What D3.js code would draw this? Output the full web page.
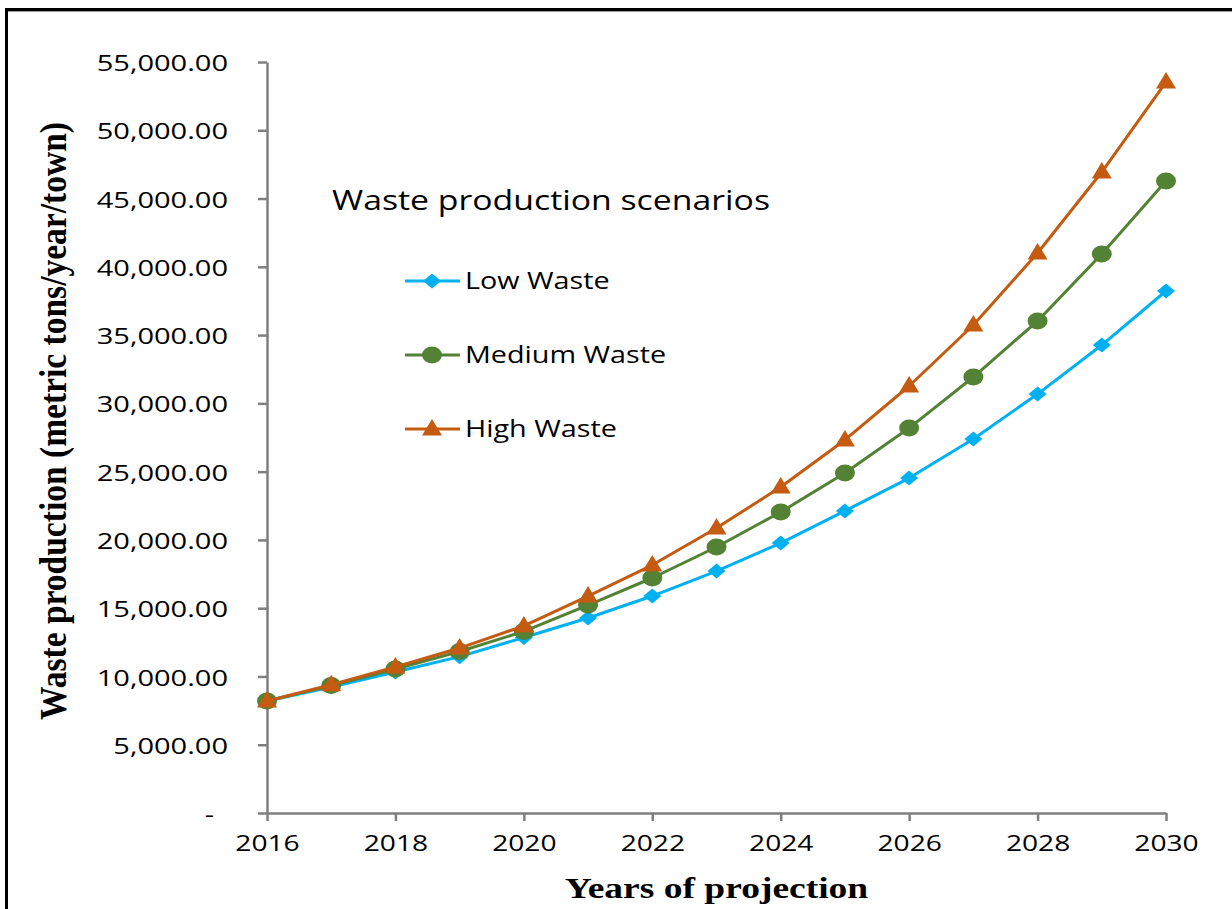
<!DOCTYPE html>
<html>
<head>
<meta charset="utf-8">
<script src="https://cdnjs.cloudflare.com/ajax/libs/d3/7.8.5/d3.min.js"></script>
<style>
  html, body { margin: 0; padding: 0; background: #fff; }
  svg { display: block; }
</style>
</head>
<body>
<div id="chart"></div>
<script>
// Projected municipal waste production per town, three scenarios
const years = [2016, 2017, 2018, 2019, 2020, 2021, 2022, 2023, 2024, 2025, 2026, 2027, 2028, 2029, 2030];
const lowWaste    = [8200, 9230, 10330, 11450, 12850, 14280, 15890, 17720, 19770, 22120, 24530, 27390, 30680, 34270, 38230];
const mediumWaste = [8200, 9330, 10550, 11830, 13300, 15230, 17210, 19480, 22040, 24900, 28190, 31930, 36030, 40940, 46280];
const highWaste   = [8200, 9400, 10690, 12080, 13700, 15890, 18160, 20870, 23870, 27320, 31270, 35740, 41010, 46940, 53530];
const seriesNames = ["Low Waste", "Medium Waste", "High Waste"];
const yTicks = [0, 5000, 10000, 15000, 20000, 25000, 30000, 35000, 40000, 45000, 50000, 55000];
const xTicks = [2016, 2018, 2020, 2022, 2024, 2026, 2028, 2030];
const legendTitle = "Waste production scenarios";
const xTitle = "Years of projection";
const yTitle = "Waste production  (metric tons/year/town)";

const W = 1232, H = 909;
const plot = { left: 267, right: 1166, top: 62, bottom: 813 };
const sx = 1.25; // horizontal stretch applied to glyphs

const series = [
  { name: seriesNames[0], values: lowWaste,    color: "#00B0F0", shape: "diamond" },
  { name: seriesNames[1], values: mediumWaste, color: "#548235", shape: "circle" },
  { name: seriesNames[2], values: highWaste,   color: "#C55A11", shape: "triangle" }
];

const svg = d3.select("#chart").append("svg").attr("width", W).attr("height", H);
svg.append("rect").attr("width", W).attr("height", H).attr("fill", "#fff");

// frame edges
svg.append("line").attr("x1", 5).attr("x2", W).attr("y1", 9.5).attr("y2", 9.5)
  .attr("stroke", "#000").attr("stroke-width", 3);
svg.append("line").attr("x1", 5).attr("x2", W).attr("y1", 11.5).attr("y2", 11.5)
  .attr("stroke", "#999").attr("stroke-width", 1);
svg.append("line").attr("x1", 6.5).attr("x2", 6.5).attr("y1", 8).attr("y2", H)
  .attr("stroke", "#000").attr("stroke-width", 3);

const x = d3.scaleLinear().domain([2016, 2030]).range([plot.left, plot.right]);
const y = d3.scaleLinear().domain([0, 55000]).range([plot.bottom, plot.top]);

const sansFont = "'Open Sans', 'Noto Sans', sans-serif";
const serifFont = "'Liberation Serif', 'DejaVu Serif', serif";

// widen rendered text horizontally
function stretch(sel, k) {
  sel.each(function () {
    const w = this.getComputedTextLength();
    d3.select(this).attr("textLength", w * k).attr("lengthAdjust", "spacingAndGlyphs");
  });
}

const fmt = d3.format(",.2f");
const axisColor = "#7F7F7F";

// y axis (zero shown as a dash, accounting style)
const yAxis = svg.append("g").attr("transform", `translate(${plot.left},0)`)
  .call(d3.axisLeft(y).tickValues(yTicks).tickSize(9).tickSizeOuter(0).tickPadding(30)
    .tickFormat(d => d === 0 ? "-" : fmt(d)));
// x axis
const xAxis = svg.append("g").attr("transform", `translate(0,${plot.bottom})`)
  .call(d3.axisBottom(x).tickValues(xTicks).tickSize(8).tickSizeOuter(0).tickPadding(13)
    .tickFormat(d3.format("d")));

[yAxis, xAxis].forEach(g => {
  g.select(".domain").attr("stroke", axisColor).attr("stroke-width", 2.5);
  g.selectAll(".tick line").attr("stroke", axisColor).attr("stroke-width", 2.5);
  g.selectAll(".tick text").attr("fill", "#000").attr("font-family", sansFont)
    .attr("font-size", 22.5);
});
yAxis.selectAll(".tick text").attr("dy", "0.38em");
yAxis.selectAll(".tick text").filter(d => d === 0).attr("dx", -14);
xAxis.selectAll(".tick text").attr("dy", "0.75em");
stretch(yAxis.selectAll(".tick text"), 1.29);
stretch(xAxis.selectAll(".tick text"), sx);

// marker shapes
function marker(g, shape, cx, cy, color) {
  if (shape === "circle") {
    g.append("ellipse").attr("cx", cx).attr("cy", cy).attr("rx", 10).attr("ry", 8.5).attr("fill", color);
  } else if (shape === "diamond") {
    const hw = 9, hh = 7.5;
    g.append("path").attr("d", `M${cx},${cy - hh}L${cx + hw},${cy}L${cx},${cy + hh}L${cx - hw},${cy}Z`)
      .attr("fill", color);
  } else {
    const hw = 10, up = 10, down = 6.5;
    g.append("path").attr("d", `M${cx},${cy - up}L${cx + hw},${cy + down}L${cx - hw},${cy + down}Z`)
      .attr("fill", color);
  }
}

const line = d3.line().x((d, i) => x(years[i])).y(d => y(d));

series.forEach(s => {
  const g = svg.append("g");
  g.append("path").datum(s.values).attr("d", line).attr("fill", "none")
    .attr("stroke", s.color).attr("stroke-width", 3).attr("stroke-linejoin", "round");
  s.values.forEach((v, i) => marker(g, s.shape, x(years[i]), y(v), s.color));
});

// legend
svg.append("text").attr("x", 332).attr("y", 210).attr("font-family", sansFont)
  .attr("font-size", 28).attr("fill", "#000")
  .attr("textLength", 438).attr("lengthAdjust", "spacingAndGlyphs").text(legendTitle);

const legendRows = [281, 355, 429];
series.forEach((s, i) => {
  const g = svg.append("g");
  const cy = legendRows[i];
  g.append("line").attr("x1", 405).attr("x2", 460).attr("y1", cy).attr("y2", cy)
    .attr("stroke", s.color).attr("stroke-width", 3);
  marker(g, s.shape, 432, cy, s.color);
  const t = g.append("text").attr("x", 465).attr("y", cy).attr("dy", "0.35em")
    .attr("font-family", sansFont).attr("font-size", 23).attr("fill", "#000").text(s.name);
  stretch(t, sx);
});

// axis titles
const xt = svg.append("text").attr("x", (plot.left + plot.right) / 2).attr("y", 898)
  .attr("text-anchor", "middle").attr("font-family", serifFont).attr("font-weight", "bold")
  .attr("font-size", 30).attr("fill", "#000").text(xTitle);
stretch(xt, sx);

svg.append("text")
  .attr("transform", "translate(66,421) rotate(-90) scale(1,1.2)")
  .attr("text-anchor", "middle").attr("font-family", serifFont).attr("font-weight", "bold")
  .attr("font-size", 31).attr("fill", "#000")
  .attr("textLength", 598).attr("lengthAdjust", "spacingAndGlyphs").text(yTitle);
</script>
</body>
</html>
